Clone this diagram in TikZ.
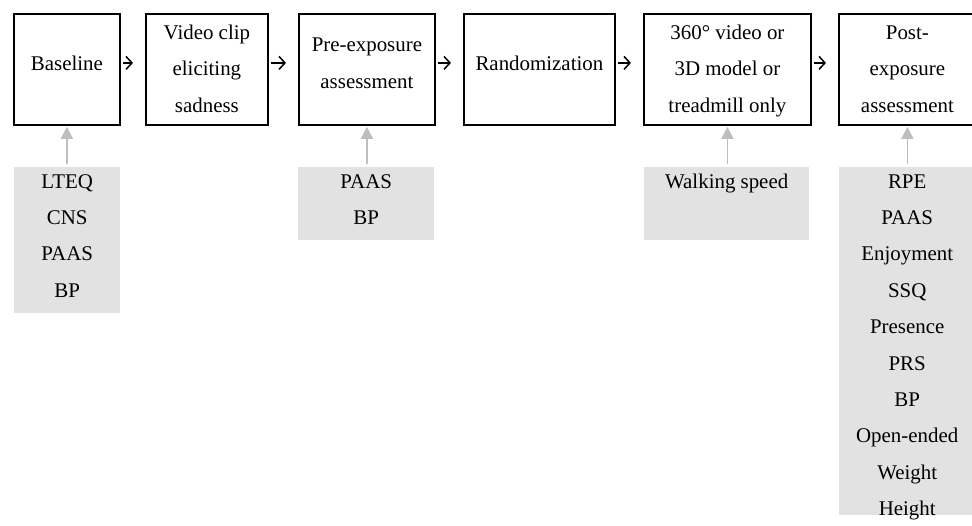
\documentclass[tikz,border=0pt]{standalone}
\usepackage{fontspec}
\setmainfont{Liberation Serif}
\usetikzlibrary{arrows.meta}

\definecolor{measuregray}{RGB}{226,226,226}
\definecolor{feedgray}{RGB}{190,190,190}

% lines of a box, one under the other
\newcommand{\rowstack}[1]{\begin{tabular}{@{}c@{}}#1\end{tabular}}
% stage text sits a bit above the middle of its frame
\newcommand{\stagetext}[1]{\vbox to 111pt{\vfil\hbox{\rowstack{#1}}\vfil\vskip13pt}}
% measure text starts at the top of its box
\newcommand{\measuretext}[2]{\vbox to #1{\vskip-4.5pt\hbox{\rowstack{#2}}\vss}}

\tikzset{
  stage/.style={draw, line width=1.8pt, inner sep=0pt, anchor=north west},
  measure/.style={fill=measuregray, inner sep=0pt, anchor=north west},
  flow/.style={-{Straight Barb[length=6pt,width=13pt]}, line width=1.5pt, shorten <=2pt, shorten >=12pt},
  feed/.style={-{Triangle[length=12pt,width=12pt]}, color=feedgray, line width=1.5pt, shorten <=3pt, shorten >=1pt}
}

\begin{document}
\begin{tikzpicture}[x=1pt, y=-1pt, font=\fontsize{20.9}{36.4}\selectfont]
\useasboundingbox (0,0) rectangle (972,525);
\clip (0,0) rectangle (972,525);

% stages
\node[stage, minimum width=106pt] (base) at (13,13) {\stagetext{Baseline}};
\node[stage, minimum width=122pt] (clip) at (145,13) {\stagetext{Video clip\\eliciting\\sadness}};
\node[stage, minimum width=136pt] (pre) at (298,13) {\stagetext{Pre-exposure\\assessment}};
\node[stage, minimum width=151pt] (rand) at (463,13) {\stagetext{Randomization}};
\node[stage, minimum width=167pt] (expo) at (643,13) {\stagetext{360° video or\\3D model or\\treadmill only}};
\node[stage, minimum width=137pt] (post) at (838,13) {\stagetext{Post-\\exposure\\assessment}};

\draw[flow] ([yshift=6.5pt]base.east) -- ([yshift=6.5pt]clip.west);
\draw[flow] ([yshift=6.5pt]clip.east) -- ([yshift=6.5pt]pre.west);
\draw[flow] ([yshift=6.5pt]pre.east) -- ([yshift=6.5pt]rand.west);
\draw[flow] ([yshift=6.5pt]rand.east) -- ([yshift=6.5pt]expo.west);
\draw[flow] ([yshift=6.5pt]expo.east) -- ([yshift=6.5pt]post.west);

% measures
\node[measure, minimum width=106pt] (lteq) at (14,167) {\measuretext{146pt}{LTEQ\\CNS\\PAAS\\BP}};
\node[measure, minimum width=136pt] (paas) at (298,167) {\measuretext{73pt}{PAAS\\BP}};
\node[measure, minimum width=165pt] (walk) at (644,167) {\measuretext{73pt}{Walking speed}};
\node[measure, minimum width=136pt] (rpe) at (839,167) {\measuretext{348pt}{RPE\\PAAS\\Enjoyment\\SSQ\\Presence\\PRS\\BP\\Open-ended\\Weight\\Height}};

\draw[feed] (lteq.north -| base.south) -- (base.south);
\draw[feed] (paas.north -| pre.south) -- (pre.south);
\draw[feed] (walk.north -| expo.south) -- (expo.south);
\draw[feed] (rpe.north -| post.south) -- (post.south);
\end{tikzpicture}
\end{document}
